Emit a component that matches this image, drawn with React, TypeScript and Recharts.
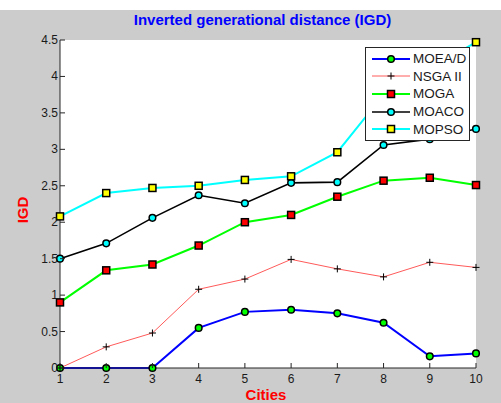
import React from "react";
import { LineChart, Line, XAxis, YAxis, CartesianGrid } from "recharts";

const cities = [1, 2, 3, 4, 5, 6, 7, 8, 9, 10];
const moead = [0, 0, 0, 0.55, 0.77, 0.8, 0.75, 0.62, 0.16, 0.2];
const nsga2 = [0, 0.29, 0.48, 1.08, 1.22, 1.49, 1.36, 1.25, 1.45, 1.38];
const moga = [0.9, 1.34, 1.42, 1.68, 2.0, 2.1, 2.35, 2.57, 2.61, 2.51];
const moaco = [1.5, 1.71, 2.06, 2.37, 2.26, 2.54, 2.55, 3.06, 3.14, 3.28];
const mopso = [2.08, 2.4, 2.47, 2.5, 2.58, 2.63, 2.96, 3.75, 4.1, 4.47];
const yTicks = [0, 0.5, 1, 1.5, 2, 2.5, 3, 3.5, 4, 4.5];

const data = cities.map((c, i) => ({
  city: c,
  moead: moead[i],
  nsga2: nsga2[i],
  moga: moga[i],
  moaco: moaco[i],
  mopso: mopso[i],
}));

const FONT = "'Liberation Sans', Arial, sans-serif";
const AX = "#262626";

type MarkerKind = "circleGreen" | "plus" | "squareRed" | "circleCyan" | "squareYellow";

const Marker = ({ kind, cx, cy }: { kind: MarkerKind; cx: number; cy: number }) => {
  if (kind === "plus")
    return (
      <g>
        <line x1={cx - 3.5} y1={cy} x2={cx + 3.5} y2={cy} stroke="#000" strokeWidth={1} />
        <line x1={cx} y1={cy - 3.5} x2={cx} y2={cy + 3.5} stroke="#000" strokeWidth={1} />
      </g>
    );
  if (kind === "circleGreen" || kind === "circleCyan")
    return (
      <circle cx={cx} cy={cy} r={3.3} fill={kind === "circleGreen" ? "#00ff00" : "#00ffff"} stroke="#000" strokeWidth={1.5} />
    );
  return (
    <rect x={cx - 3.5} y={cy - 3.5} width={7} height={7} fill={kind === "squareRed" ? "#ff0000" : "#ffff00"} stroke="#000" strokeWidth={1.5} />
  );
};

const makeDot = (kind: MarkerKind) => (props: any) => {
  const { cx, cy, index } = props;
  if (cx == null || cy == null) return <g key={index} />;
  return <Marker key={index} kind={kind} cx={cx} cy={cy} />;
};

const series = [
  { key: "moead", name: "MOEA/D", color: "#0000ff", width: 2, kind: "circleGreen" as MarkerKind },
  { key: "nsga2", name: "NSGA II", color: "#ff5a5a", width: 1, kind: "plus" as MarkerKind },
  { key: "moga", name: "MOGA", color: "#00ff00", width: 2, kind: "squareRed" as MarkerKind },
  { key: "moaco", name: "MOACO", color: "#000000", width: 1.6, kind: "circleCyan" as MarkerKind },
  { key: "mopso", name: "MOPSO", color: "#00ffff", width: 2, kind: "squareYellow" as MarkerKind },
];

const BottomTick = (props: any) => {
  const { x, y, payload } = props;
  return (
    <g>
      <line x1={x} y1={y} x2={x} y2={y - 5} stroke={AX} />
      <text x={x} y={y + 15} textAnchor="middle" fontSize={12} fontFamily={FONT} fill="#1a1a1a">
        {payload.value}
      </text>
    </g>
  );
};
const TopTick = (props: any) => {
  const { x, y } = props;
  return <line x1={x} y1={y} x2={x} y2={y + 5} stroke={AX} />;
};
const LeftTick = (props: any) => {
  const { x, y, payload } = props;
  return (
    <g>
      <line x1={x} y1={y} x2={x + 5} y2={y} stroke={AX} />
      <text x={x - 2} y={y + 4} textAnchor="end" fontSize={12} fontFamily={FONT} fill="#1a1a1a">
        {payload.value}
      </text>
    </g>
  );
};
const RightTick = (props: any) => {
  const { x, y } = props;
  return <line x1={x} y1={y} x2={x - 5} y2={y} stroke={AX} />;
};

const LegendBox = () => (
  <div
    style={{
      position: "absolute",
      left: 365,
      top: 37,
      width: 105,
      height: 94,
      background: "#fff",
      border: "1px solid #262626",
      boxSizing: "border-box",
      paddingTop: 2,
    }}
  >
    {series.map((s) => (
      <div key={s.key} style={{ display: "flex", alignItems: "center", height: 17.6 }}>
        <svg width={47} height={12} style={{ display: "block" }}>
          <line x1={6} y1={6} x2={44} y2={6} stroke={s.color} strokeWidth={s.width} />
          <Marker kind={s.kind} cx={25} cy={6} />
        </svg>
        <span style={{ fontFamily: FONT, fontSize: 13.5, color: "#1a1a1a", lineHeight: "15px", whiteSpace: "nowrap" }}>{s.name}</span>
      </div>
    ))}
  </div>
);

export default function App() {
  return (
    <div style={{ position: "absolute", left: 0, top: 0, width: 501, height: 403, background: "#fff", overflow: "hidden" }}>
      <div style={{ position: "absolute", left: 0, top: 10, width: 501, height: 393, background: "#cccccc" }}>
        <LineChart
          width={501}
          height={393}
          data={data}
          margin={{ top: 30, right: 25, bottom: 5, left: 30 }}
          style={{ fontFamily: FONT }}
        >
          <CartesianGrid horizontal={false} vertical={false} fill="#ffffff" />
          <XAxis
            xAxisId="b"
            dataKey="city"
            type="number"
            domain={[1, 10]}
            ticks={cities}
            height={30}
            tickSize={0}
            tickMargin={0}
            tick={<BottomTick />}
            axisLine={{ stroke: AX }}
            tickLine={false}
          />
          <XAxis
            xAxisId="t"
            orientation="top"
            dataKey="city"
            type="number"
            domain={[1, 10]}
            ticks={cities}
            height={0}
            tickSize={0}
            tickMargin={0}
            tick={<TopTick />}
            axisLine={{ stroke: AX }}
            tickLine={false}
          />
          <YAxis
            yAxisId="l"
            type="number"
            domain={[0, 4.5]}
            ticks={yTicks}
            width={30}
            tickSize={0}
            tickMargin={0}
            tick={<LeftTick />}
            axisLine={{ stroke: AX }}
            tickLine={false}
          />
          <YAxis
            yAxisId="r"
            orientation="right"
            type="number"
            domain={[0, 4.5]}
            ticks={yTicks}
            width={0}
            tickSize={0}
            tickMargin={0}
            tick={<RightTick />}
            axisLine={{ stroke: AX }}
            tickLine={false}
          />
          {series.map((s) => (
            <Line
              key={s.key}
              xAxisId="b"
              yAxisId="l"
              dataKey={s.key}
              name={s.name}
              type="linear"
              stroke={s.color}
              strokeWidth={s.width}
              dot={makeDot(s.kind)}
              activeDot={false}
              isAnimationActive={false}
            />
          ))}
          <Line xAxisId="t" yAxisId="r" dataKey="moead" stroke="none" dot={false} activeDot={false} isAnimationActive={false} legendType="none" />
        </LineChart>
        <LegendBox />
        <div
          style={{
            position: "absolute",
            left: 0,
            width: 525,
            top: 1,
            textAlign: "center",
            fontFamily: FONT,
            fontWeight: "bold",
            fontSize: 15,
            color: "#0000ff",
          }}
        >
          Inverted generational distance (IGD)
        </div>
        <div
          style={{
            position: "absolute",
            left: 236,
            top: 377,
            width: 60,
            height: 16,
            lineHeight: "16px",
            textAlign: "center",
            fontFamily: FONT,
            fontWeight: "bold",
            fontSize: 15,
            color: "#ff0000",
          }}
        >
          Cities
        </div>
        <div
          style={{
            position: "absolute",
            left: 4,
            top: 190,
            width: 40,
            height: 20,
            transform: "rotate(-90deg)",
            transformOrigin: "20px 10px",
            textAlign: "center",
            fontFamily: FONT,
            fontWeight: "bold",
            fontSize: 15,
            color: "#ff0000",
          }}
        >
          IGD
        </div>
      </div>
    </div>
  );
}
